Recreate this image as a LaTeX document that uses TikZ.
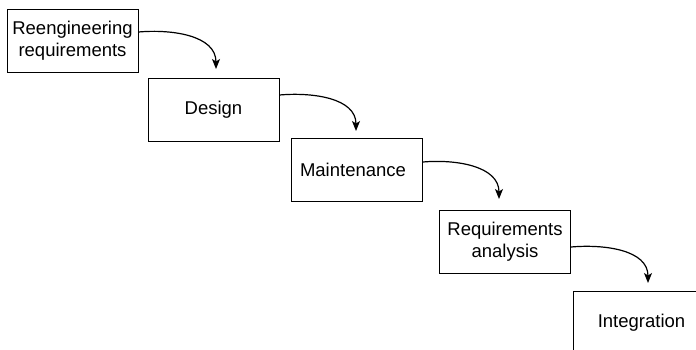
\documentclass[tikz,border=0pt]{standalone}
\usepackage{fontspec}
\setmainfont{Liberation Sans}
\usetikzlibrary{arrows.meta}
\begin{document}
\begin{tikzpicture}[x=1pt,y=-1pt,
  stagebox/.style={draw=black, line width=1pt, minimum width=131pt, minimum height=63pt,
    inner sep=0pt, align=center, font=\fontsize{18.5}{21.5}\selectfont},
  flowarrow/.style={draw=black, line width=1.2pt, -{Stealth[length=10pt,width=8pt,inset=2.5pt]}}]
\useasboundingbox (0,0) rectangle (696,349);
\clip (0,0) rectangle (696,349);
\fill[white] (0,0) rectangle (696,349);
\node[stagebox] (b1) at (72.5,40.5) {Reengineering\\requirements};
\node[stagebox] (b2) at (213.5,109.5) {Design};
\node[stagebox] (b3) at (357,169.5) {\hspace*{-8pt}Maintenance};
\node[stagebox] (b4) at (505,241.5) {Requirements\\analysis};
\node[stagebox] (b5) at (638.5,322.5) {\hspace*{6pt}Integration};
\coordinate (s1) at (b1.east |- 0,32);
\coordinate (s2) at (b2.east |- 0,95);
\coordinate (s3) at (b3.east |- 0,162);
\coordinate (s4) at (b4.east |- 0,247);
\coordinate (t1) at (216,69);
\coordinate (t2) at (356,131);
\coordinate (t3) at (499,199);
\coordinate (t4) at (648,283);
\draw[flowarrow] (s1) to[out=5,in=90] (t1);
\draw[flowarrow] (s2) to[out=5,in=90] (t2);
\draw[flowarrow] (s3) to[out=5,in=90] (t3);
\draw[flowarrow] (s4) to[out=5,in=90] (t4);
\end{tikzpicture}
\end{document}
